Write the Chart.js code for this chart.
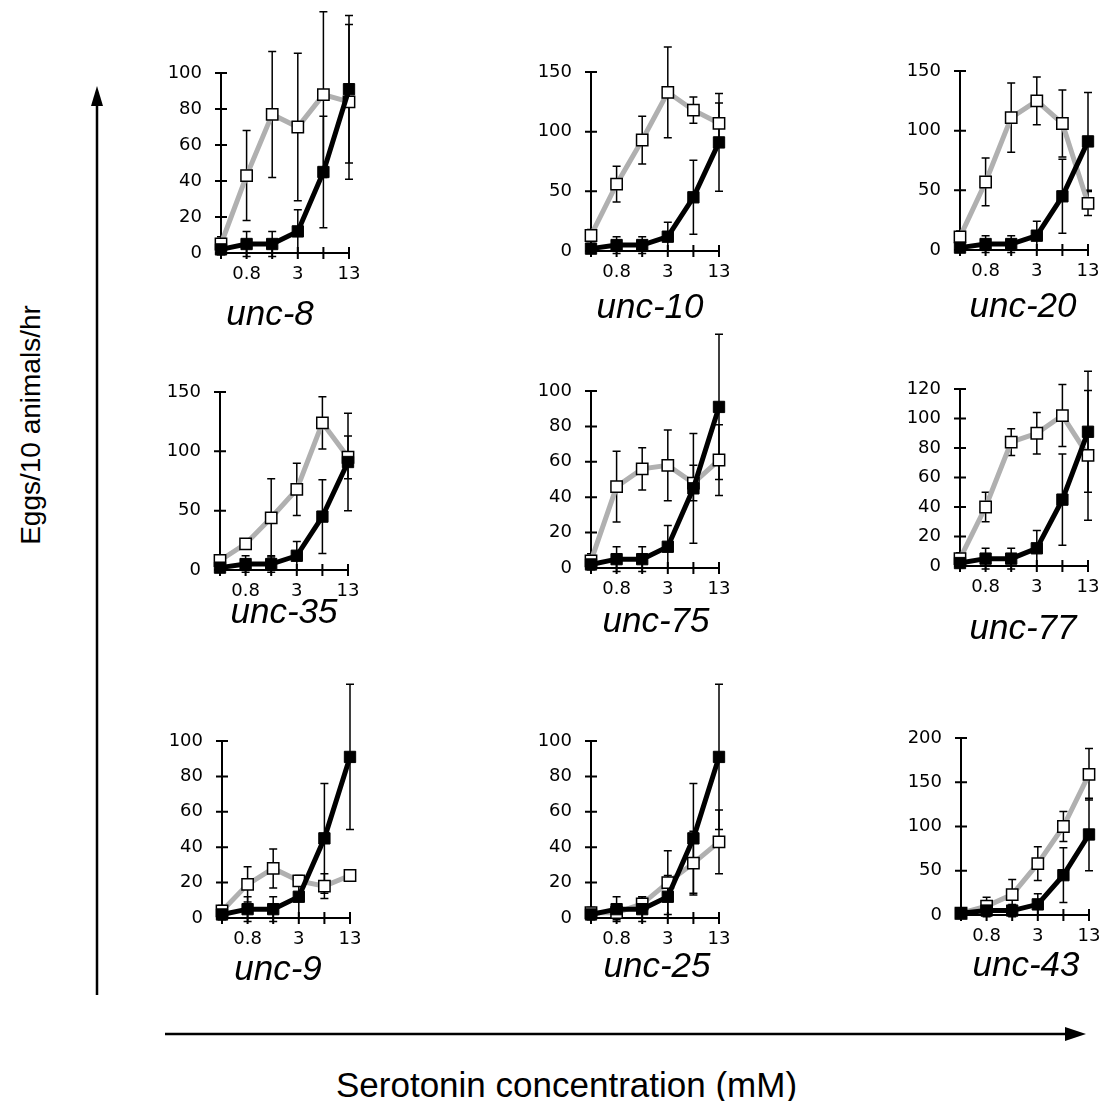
<!DOCTYPE html>
<html>
<head>
<meta charset="utf-8">
<title>Serotonin dose response of unc mutants</title>
<script src="https://cdn.jsdelivr.net/npm/chart.js"></script>
<style>
  html, body { margin: 0; padding: 0; overflow: hidden; background: #fff; }
  #page { position: relative; width: 1099px; height: 1101px; font-family: 'Liberation Sans', Arial, sans-serif; }
  #page canvas { position: absolute; }
  #page svg { position: absolute; left: 0; top: 0; }
  .axis-title { position: absolute; color: #000; white-space: nowrap; line-height: 1; }
  #ytitle { left: 31px; top: 425px; font-size: 28px; transform: translate(-50%, -50%) rotate(-90deg); }
  #xtitle { left: 336px; top: 1067px; font-size: 35px; }
</style>
</head>
<body>
<div id="page">
  <svg width="1099" height="1101">
    <line x1="97" y1="995" x2="97" y2="100" stroke="#000" stroke-width="2.5"/>
    <polygon points="97,86 91,106 103,106" fill="#000"/>
    <line x1="165" y1="1034" x2="1068" y2="1034" stroke="#000" stroke-width="2.5"/>
    <polygon points="1086,1034 1065,1027 1065,1041" fill="#000"/>
  </svg>
  <div class="axis-title" id="ytitle">Eggs/10 animals/hr</div>
  <div class="axis-title" id="xtitle">Serotonin concentration (mM)</div>
</div>
<script>
// serotonin doses, only some are labelled on the axis
const xTickLabels = ['', '0.8', '', '3', '', '13'];

const panelNames = ['unc-8', 'unc-10', 'unc-20', 'unc-35', 'unc-75', 'unc-77', 'unc-9', 'unc-25', 'unc-43'];
const yMax = [100, 150, 150, 150, 100, 120, 100, 100, 200];
const yStep = [20, 50, 50, 50, 20, 20, 20, 20, 50];

// wild type (filled squares), the same curve in every panel
const wildType = [2, 5, 5, 12, 45, 91];
const wildTypeErr = [3, 7, 7, 12, 31, 41];

// mutants (open squares)
const unc8 = [5, 43, 77, 70, 88, 84];
const unc8Err = [4, 25, 35, 41, 46, 43];
const unc10 = [13, 56, 93, 133, 118, 107];
const unc10Err = [5, 15, 20, 38, 11, 17];
const unc20 = [11, 57, 111, 125, 106, 39];
const unc20Err = [5, 20, 29, 20, 28, 10];
const unc35 = [8, 22, 44, 68, 124, 95];
const unc35Err = [4, 3, 33, 22, 22, 18];
const unc75 = [4, 46, 56, 58, 48, 61];
const unc75Err = [4, 20, 12, 20, 10, 20];
const unc77 = [5, 40, 84, 90, 102, 75];
const unc77Err = [4, 10, 9, 14, 21, 44];
const unc9 = [4, 19, 28, 21, 18, 24];
const unc9Err = [3, 10, 11, 2, 7, 2];
const unc25 = [3, 3, 8, 20, 31, 43];
const unc25Err = [3, 4, 4, 18, 18, 18];
const unc43 = [2, 10, 23, 58, 100, 159];
const unc43Err = [2, 10, 17, 19, 17, 29];

const mutants = [unc8, unc10, unc20, unc35, unc75, unc77, unc9, unc25, unc43];
const mutantErrs = [unc8Err, unc10Err, unc20Err, unc35Err, unc75Err, unc77Err, unc9Err, unc25Err, unc43Err];

// page layout of each panel (pixels)
const axisLeft = [221, 591, 960, 220, 591, 960, 222, 591, 961];
const plotTop = [73, 72, 71, 392, 391, 389, 741, 741, 738];
const plotBottom = [253, 251, 250, 570, 568, 566, 918, 918, 915];
const titleX = [270, 650, 1023, 284, 656, 1023, 278, 657, 1026];
const titleY = [315, 308, 307, 613, 622, 629, 970, 967, 966];

const PAD_TOP = 70, Y_AXIS_W = 70, PLOT_W = 128, PAD_RIGHT = 70, X_AXIS_H = 36, PAD_BOTTOM = 60;
const TICK_FONT = { family: 'DejaVu Sans', size: 18 };

// axis lines with ticks that cross the axis
const crossAxes = {
    id: 'crossAxes',
    beforeDatasetsDraw(chart) {
        const { ctx, scales: { x, y } } = chart;
        const x0 = x.getPixelForValue(0), x1 = x.getPixelForValue(x.max);
        const y0 = y.getPixelForValue(0), y1 = y.getPixelForValue(y.max);
        ctx.save();
        ctx.strokeStyle = '#000';
        ctx.lineWidth = 2;
        ctx.beginPath();
        ctx.moveTo(x0, y1);
        ctx.lineTo(x0, y0 + 6);
        ctx.moveTo(x0, y0);
        ctx.lineTo(x1, y0);
        y.ticks.forEach(t => {
            const p = y.getPixelForValue(t.value);
            ctx.moveTo(x0 - 6, p);
            ctx.lineTo(x0 + 6, p);
        });
        x.ticks.forEach((t, i) => {
            const p = x.getPixelForTick(i);
            ctx.moveTo(p, y0 - 6);
            ctx.lineTo(p, y0 + 6);
        });
        ctx.stroke();
        ctx.restore();
    }
};

// vertical error bars, drawn under the markers
const errorBars = {
    id: 'errorBars',
    beforeDatasetsDraw(chart) {
        const { ctx, scales: { x, y } } = chart;
        ctx.save();
        ctx.strokeStyle = '#000';
        ctx.lineWidth = 1.5;
        chart.data.datasets.forEach(ds => {
            if (!ds.errors) return;
            ds.data.forEach((v, i) => {
                const e = ds.errors[i];
                if (!e) return;
                const px = x.getPixelForValue(i);
                const top = y.getPixelForValue(v + e);
                const bot = y.getPixelForValue(v - e);
                ctx.beginPath();
                ctx.moveTo(px, top);
                ctx.lineTo(px, bot);
                ctx.moveTo(px - 4, top);
                ctx.lineTo(px + 4, top);
                ctx.moveTo(px - 4, bot);
                ctx.lineTo(px + 4, bot);
                ctx.stroke();
            });
        });
        ctx.restore();
    }
};

// italic gene name under each panel
const panelTitle = {
    id: 'panelTitle',
    afterDraw(chart, args, opts) {
        const ctx = chart.ctx;
        ctx.save();
        ctx.font = 'italic 35px "Liberation Sans", Arial, sans-serif';
        ctx.fillStyle = '#000';
        ctx.textAlign = 'center';
        ctx.textBaseline = 'middle';
        ctx.fillText(opts.text, opts.x, opts.y);
        ctx.restore();
    }
};

function makePanel(i) {
    const left = axisLeft[i] - Y_AXIS_W;
    const top = plotTop[i] - PAD_TOP;
    const plotH = plotBottom[i] - plotTop[i];

    const canvas = document.createElement('canvas');
    canvas.width = Y_AXIS_W + PLOT_W + PAD_RIGHT;
    canvas.height = PAD_TOP + plotH + X_AXIS_H + PAD_BOTTOM;
    canvas.style.left = left + 'px';
    canvas.style.top = top + 'px';
    document.getElementById('page').appendChild(canvas);

    return new Chart(canvas.getContext('2d'), {
        type: 'line',
        data: {
            labels: xTickLabels,
            datasets: [
                {
                    label: 'wild type',
                    data: wildType,
                    errors: wildTypeErr,
                    borderColor: '#000',
                    borderWidth: 5,
                    pointStyle: 'rect',
                    pointRadius: 8,
                    pointBackgroundColor: '#000',
                    pointBorderColor: '#000',
                    pointBorderWidth: 1,
                    clip: false
                },
                {
                    label: panelNames[i],
                    data: mutants[i],
                    errors: mutantErrs[i],
                    borderColor: '#b0b0b0',
                    borderWidth: 5,
                    pointStyle: 'rect',
                    pointRadius: 8,
                    pointBackgroundColor: '#fff',
                    pointBorderColor: '#000',
                    pointBorderWidth: 1.5,
                    clip: false
                }
            ]
        },
        options: {
            responsive: false,
            animation: false,
            events: [],
            layout: { padding: { top: PAD_TOP, left: 0, right: PAD_RIGHT, bottom: PAD_BOTTOM } },
            scales: {
                x: {
                    type: 'category',
                    offset: false,
                    grid: { display: false, drawTicks: false },
                    border: { display: false },
                    ticks: {
                        autoSkip: false,
                        maxRotation: 0,
                        padding: 11,
                        color: '#000',
                        font: TICK_FONT,
                        callback: (v, idx) => xTickLabels[idx]
                    },
                    afterFit: s => { s.height = X_AXIS_H; }
                },
                y: {
                    min: 0,
                    max: yMax[i],
                    grid: { display: false, drawTicks: false },
                    border: { display: false },
                    ticks: { stepSize: yStep[i], padding: 19, color: '#000', font: TICK_FONT },
                    afterFit: s => { s.width = Y_AXIS_W; }
                }
            },
            plugins: {
                legend: { display: false },
                tooltip: { enabled: false },
                panelTitle: { text: panelNames[i], x: titleX[i] - left, y: titleY[i] - top }
            }
        },
        plugins: [crossAxes, errorBars, panelTitle]
    });
}

panelNames.forEach((name, i) => makePanel(i));
</script>
</body>
</html>
